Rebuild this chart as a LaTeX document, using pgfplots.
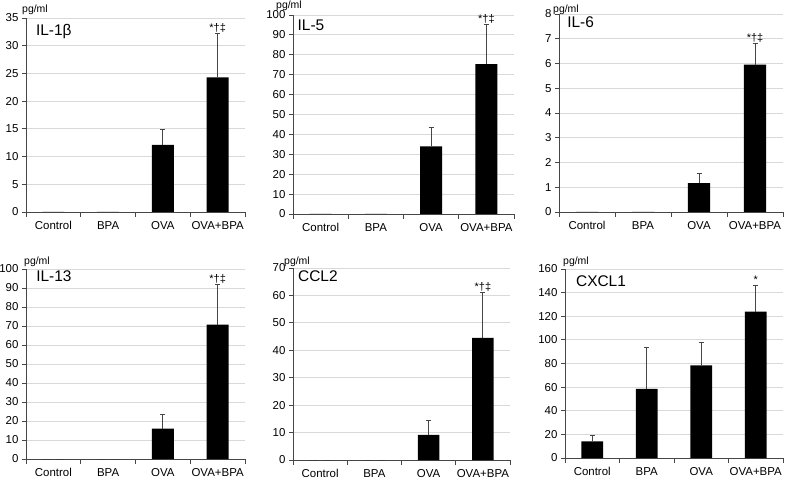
\documentclass[border=0pt]{standalone}
\usepackage{fontspec}
\setmainfont{Liberation Sans}
\usepackage{pgfplots}
\pgfplotsset{compat=1.18}
\definecolor{gridgray}{RGB}{217,217,217}
\definecolor{axgray}{RGB}{70,70,70}
\pgfplotsset{
 panel/.style={
  scale only axis, anchor=south west,
  xmin=-0.5, xmax=3.5, ymin=0,
  axis x line*=bottom, axis y line*=left,
  axis line style={axgray, line width=0.8pt},
  xtick={0,1,2,3}, xticklabels={Control,BPA,OVA,OVA+BPA},
  minor xtick={-0.5,0.5,1.5,2.5,3.5},
  major x tick style={draw=none},
  minor x tick style={axgray, line width=0.8pt},
  major y tick style={axgray, line width=0.8pt},
  tick align=outside, major tick length=4bp, minor tick length=5bp,
  ymajorgrids, grid style={gridgray, line width=0.8pt},
  tick label style={font=\fontsize{11.5}{12}\selectfont},
  /pgf/number format/assume math mode=true,
  xticklabel style={yshift=-2bp},
  clip=false,
 },
 bars/.style={ybar, bar width=0.4, fill=black, draw=none,
  error bars/.cd, y dir=plus, y explicit,
  error bar style={axgray, line width=0.8pt},
  error mark options={rotate=90, mark size=2.5bp, axgray, line width=0.8pt}},
}
\newcommand{\ttl}[3]{\node[anchor=west, inner sep=0pt, font=\fontsize{15.5}{16}\selectfont] at (rel axis cs:#1,#2) {#3};}
\newcommand{\unit}[2]{\node[anchor=west, inner sep=0pt, font=\fontsize{10.5}{11}\selectfont, xshift=#1bp, yshift=#2bp] at (rel axis cs:0,1) {pg/ml};}
\newcommand{\sig}[3]{\node[anchor=south, inner sep=1bp, font=\fontsize{11}{11}\selectfont] at (axis cs:#1,#2) {#3};}
\begin{document}
\begin{tikzpicture}
\useasboundingbox (0,0) rectangle (785bp,485bp);
% IL-1b
\begin{axis}[panel, at={(26bp,273bp)}, width=219bp, height=194bp, ymax=35, ytick distance=5]
\addplot[bars] table[x=x, y=y, y error=e] {
x y e
0 0 0
1 0 0
2 12.1 2.8
3 24.3 7.9
};
\ttl{0.045}{0.93}{IL-1β}
\unit{-4}{8}
\sig{3}{32.2}{*†‡}
\end{axis}
% IL-5
\begin{axis}[panel, at={(293bp,271bp)}, width=221bp, height=199bp, ymax=100, ytick distance=10]
\addplot[bars] table[x=x, y=y, y error=e] {
x y e
0 0 0
1 0 0
2 34.0 9.3
3 75.3 19.9
};
\ttl{0.02}{0.95}{IL-5}
\unit{-17}{9.5}
\sig{3}{95.2}{*†‡}
\end{axis}
% IL-6
\begin{axis}[panel, at={(559bp,273bp)}, width=224bp, height=198bp, ymax=8, ytick distance=1]
\addplot[bars] table[x=x, y=y, y error=e] {
x y e
0 0 0
1 0 0
2 1.17 0.40
3 5.95 0.87
};
\ttl{0.036}{0.96}{IL-6}
\unit{-6}{4}
\sig{3}{6.82}{*†‡}
\end{axis}
% IL-13
\begin{axis}[panel, at={(26bp,26bp)}, width=219bp, height=190bp, ymax=100, ytick distance=10]
\addplot[bars] table[x=x, y=y, y error=e] {
x y e
0 0 0
1 0 0
2 16.0 7.5
3 70.7 21.3
};
\ttl{0.046}{0.963}{IL-13}
\unit{-2}{7}
\sig{3}{92}{*†‡}
\end{axis}
% CCL2
\begin{axis}[panel, at={(293bp,25bp)}, width=217bp, height=192bp, ymax=70, ytick distance=10]
\addplot[bars] table[x=x, y=y, y error=e] {
x y e
0 0 0
1 0 0
2 9.2 5.1
3 44.5 16.5
};
\ttl{0.023}{0.958}{CCL2}
\unit{-9}{6}
\sig{3}{61}{*†‡}
\end{axis}
% CXCL1
\begin{axis}[panel, at={(565bp,27bp)}, width=218bp, height=189bp, ymax=160, ytick distance=20]
\addplot[bars] table[x=x, y=y, y error=e] {
x y e
0 14 5
1 58.5 35.5
2 78.5 19.5
3 124 22.5
};
\ttl{0.05}{0.937}{CXCL1}
\unit{-2}{7}
\sig{3}{146.5}{*}
\end{axis}
\end{tikzpicture}
\end{document}
